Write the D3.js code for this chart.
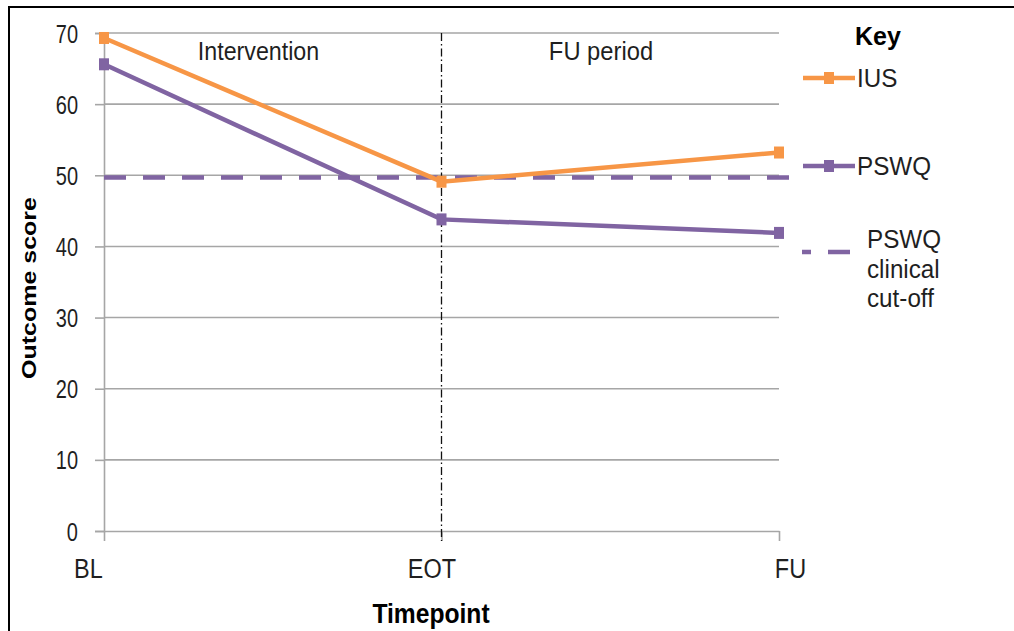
<!DOCTYPE html>
<html>
<head>
<meta charset="utf-8">
<script src="https://cdn.jsdelivr.net/npm/d3@7"></script>
<style>
  html, body { margin: 0; padding: 0; background: #fff; }
  svg { display: block; }
  text { font-family: "Liberation Sans", Arial, sans-serif; }
</style>
</head>
<body>
<svg id="chart" width="1014" height="631"></svg>
<script>
// Timepoints on the x axis
const timepoints = ["BL", "EOT", "FU"];
// Mean scores per measure
const iusValues = [69.3, 49.1, 53.2];
const pswqValues = [65.6, 43.8, 41.9];
// PSWQ clinical cut-off
const pswqCutoff = 49.7;
// Y axis ticks
const yTicks = [0, 10, 20, 30, 40, 50, 60, 70];
// Phase labels
const phaseLabels = ["Intervention", "FU period"];

const ORANGE = "#F79646";
const PURPLE = "#8064A2";
const GRID = "#a6a6a6";
const TEXT = "#1f1f1f";

const svg = d3.select("#chart");

// text placed at (x, y) and squeezed horizontally by sx
function label(parent, x, y, str, opts = {}) {
  return parent.append("text")
    .attr("transform", `translate(${x},${y}) scale(${opts.sx || 1},${opts.sy || 1})`)
    .attr("text-anchor", opts.anchor || "start")
    .attr("font-size", opts.size || 25)
    .attr("font-weight", opts.weight || "normal")
    .attr("fill", opts.fill || TEXT)
    .text(str);
}

// outer frame
svg.append("path")
  .attr("d", "M9,640 L9,7 L1020,7")
  .attr("fill", "none").attr("stroke", "#000").attr("stroke-width", 2);

const x = d3.scalePoint().domain(timepoints).range([104, 779]);
const y = d3.scaleLinear().domain([0, 70]).range([531, 33]);

// horizontal gridlines
svg.append("g").selectAll("line").data(yTicks.filter(d => d > 0)).join("line")
  .attr("x1", 104).attr("x2", 779)
  .attr("y1", d => y(d)).attr("y2", d => y(d))
  .attr("stroke", GRID).attr("stroke-width", 1.6);

// y axis
const yAxis = svg.append("g").attr("transform", "translate(104,0)")
  .call(d3.axisLeft(y).tickValues(yTicks).tickSize(9));
yAxis.select(".domain").attr("stroke", GRID).attr("stroke-width", 1.6);
yAxis.selectAll(".tick line").attr("stroke", GRID).attr("stroke-width", 1.6);
yAxis.selectAll(".tick text")
  .attr("x", 0).attr("dy", null).attr("y", 0)
  .attr("transform", "translate(-26,9) scale(0.8,1)")
  .attr("text-anchor", "end")
  .attr("font-size", 25).attr("font-family", "Liberation Sans, Arial, sans-serif").attr("fill", TEXT);

// x axis
const xAxis = svg.append("g").attr("transform", "translate(0,531)")
  .call(d3.axisBottom(x).tickSize(10).tickSizeOuter(0));
xAxis.select(".domain").attr("stroke", GRID).attr("stroke-width", 1.6);
xAxis.selectAll(".tick line").attr("stroke", GRID).attr("stroke-width", 1.6);
const labelShift = { BL: -16, EOT: -10, FU: 11 };
xAxis.selectAll(".tick text")
  .attr("y", 0).attr("dy", null)
  .attr("transform", d => `translate(${labelShift[d]},47) scale(0.84,1)`)
  .attr("font-size", 28).attr("font-family", "Liberation Sans, Arial, sans-serif").attr("fill", TEXT);

// phase separator at end of treatment
svg.append("line")
  .attr("x1", x("EOT")).attr("x2", x("EOT"))
  .attr("y1", y(70)).attr("y2", 541)
  .attr("stroke", "#111").attr("stroke-width", 1.3)
  .attr("stroke-dasharray", "8,3,1.5,3");

// phase labels
label(svg, 258.5, 60, phaseLabels[0], { anchor: "middle", sx: 0.93 });
label(svg, 601, 60, phaseLabels[1], { anchor: "middle", sx: 0.95 });

// clinical cut-off line
svg.append("line")
  .attr("x1", 104).attr("x2", 798)
  .attr("y1", y(pswqCutoff)).attr("y2", y(pswqCutoff))
  .attr("stroke", PURPLE).attr("stroke-width", 4.5)
  .attr("stroke-dasharray", "22,17");

const line = d3.line().x((d, i) => x(timepoints[i])).y(d => y(d));

function drawSeries(values, color) {
  svg.append("path").datum(values)
    .attr("d", line).attr("fill", "none")
    .attr("stroke", color).attr("stroke-width", 4.5);
  svg.append("g").selectAll("rect").data(values).join("rect")
    .attr("x", (d, i) => x(timepoints[i]) - 5)
    .attr("y", d => y(d) - 6)
    .attr("width", 10).attr("height", 12)
    .attr("fill", color);
}
drawSeries(pswqValues, PURPLE);
drawSeries(iusValues, ORANGE);

// axis titles
svg.append("text")
  .attr("transform", "translate(36,288) rotate(-90) scale(1.25,1)")
  .attr("text-anchor", "middle")
  .attr("font-size", 20).attr("font-weight", "bold").attr("fill", "#000")
  .text("Outcome score");
label(svg, 431, 623, "Timepoint", { anchor: "middle", size: 28, weight: "bold", sx: 0.88, fill: "#000" });

// legend
const lg = svg.append("g");
label(lg, 878, 45, "Key", { anchor: "middle", weight: "bold", fill: "#000" });

function legendLine(yPos, color, str) {
  lg.append("line").attr("x1", 803).attr("x2", 855).attr("y1", yPos).attr("y2", yPos)
    .attr("stroke", color).attr("stroke-width", 4.5);
  lg.append("rect").attr("x", 824).attr("y", yPos - 6).attr("width", 10).attr("height", 12).attr("fill", color);
  label(lg, 857, yPos + 9, str, { sx: 0.97 });
}
legendLine(78, ORANGE, "IUS");
legendLine(166, PURPLE, "PSWQ");

lg.append("line").attr("x1", 802).attr("x2", 850).attr("y1", 252).attr("y2", 252)
  .attr("stroke", PURPLE).attr("stroke-width", 4.5).attr("stroke-dasharray", "9,17,22");
["PSWQ", "clinical", "cut-off"].forEach((t, i) => {
  label(lg, 867, 248 + i * 29.5, t, { sx: 0.97 });
});
</script>
</body>
</html>
